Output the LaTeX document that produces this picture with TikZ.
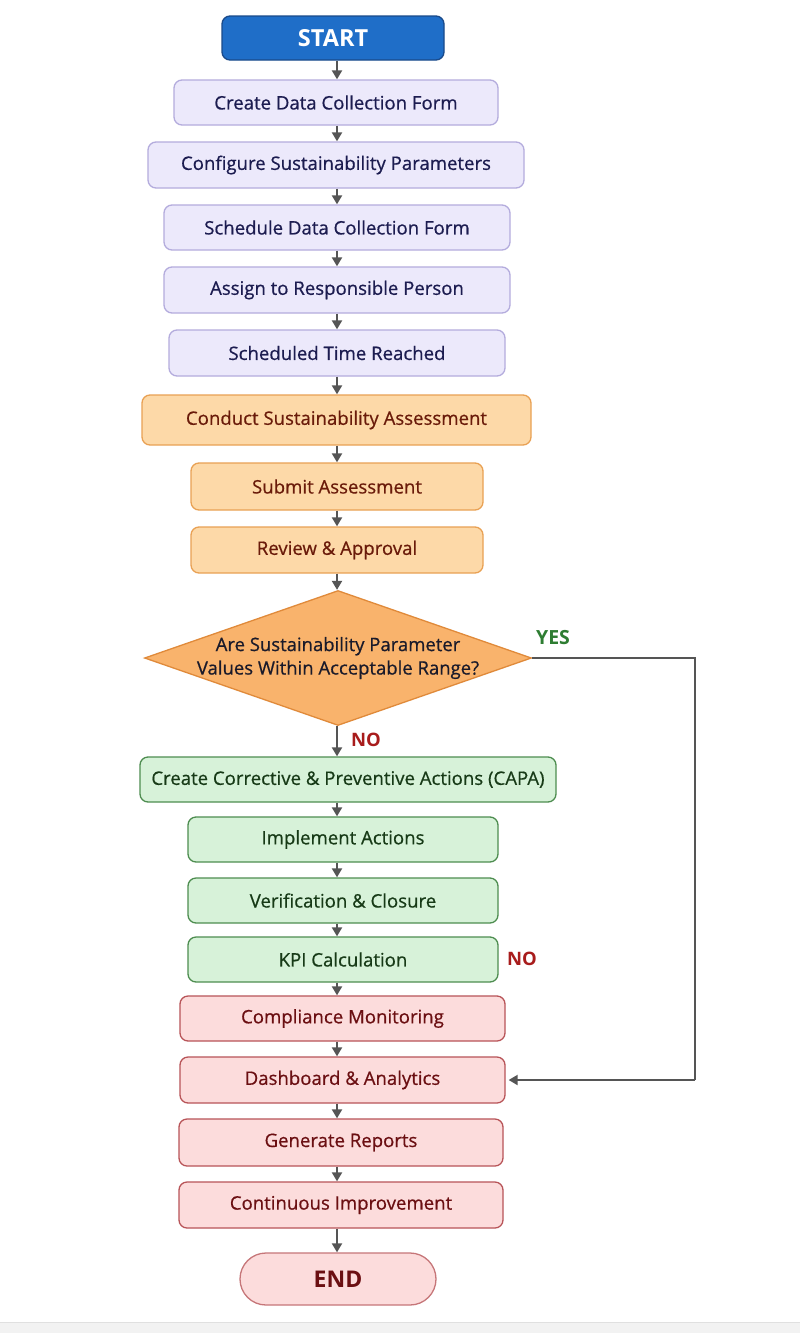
\documentclass[tikz,border=0pt]{standalone}
\usepackage{fontspec}
\setmainfont{Open Sans}
\newfontfamily\medfont{Open Sans}[FakeBold=0.6]
\usetikzlibrary{arrows.meta,shapes.geometric}
\definecolor{pfill}{HTML}{ECE9FB}
\definecolor{pdraw}{HTML}{B4ACDD}
\definecolor{ptext}{HTML}{1C1C50}
\definecolor{ofill}{HTML}{FDD9A8}
\definecolor{odraw}{HTML}{E9A154}
\definecolor{otext}{HTML}{6A1B0A}
\definecolor{dfill}{HTML}{F9B36C}
\definecolor{ddraw}{HTML}{E08A3A}
\definecolor{dtext}{HTML}{1A1A2A}
\definecolor{gfill}{HTML}{D7F2D9}
\definecolor{gdraw}{HTML}{4E8D50}
\definecolor{gtext}{HTML}{173A17}
\definecolor{rfill}{HTML}{FCDCDC}
\definecolor{rdraw}{HTML}{B85458}
\definecolor{rtext}{HTML}{6B0F12}
\definecolor{sfill}{HTML}{1F6EC8}
\definecolor{sdraw}{HTML}{1A4A8A}
\definecolor{arrc}{HTML}{555555}
\definecolor{yescol}{HTML}{2E7D32}
\definecolor{nocol}{HTML}{A81C1C}
\begin{document}
\begin{tikzpicture}[x=1pt,y=-1pt,
  box/.style={draw, rounded corners=8pt, line width=1.3pt, inner sep=0pt, align=center, font=\medfont\fontsize{18.6}{21}\selectfont},
  pbox/.style={box, fill=pfill, draw=pdraw, text=ptext},
  obox/.style={box, fill=ofill, draw=odraw, text=otext},
  gbox/.style={box, fill=gfill, draw=gdraw, text=gtext},
  rbox/.style={box, fill=rfill, draw=rdraw, text=rtext},
  arr/.style={draw=arrc, line width=2pt, -{Triangle[length=9pt,width=10pt]}},
  lbl/.style={font=\fontsize{18.5}{20}\selectfont\bfseries}
]
\useasboundingbox (0,0) rectangle (800,1333);
\fill[white] (0,0) rectangle (800,1333);
\fill[black!5] (0,1322) rectangle (800,1333);
\draw[black!12, line width=0.8pt] (0,1322) -- (800,1322);

\node[box, fill=sfill, draw=sdraw, text=white, minimum width=222pt, minimum height=44pt, font=\fontsize{23.5}{26}\selectfont\bfseries] (start) at (333,38) {START};
\node[pbox, minimum width=324pt, minimum height=45pt] (n1) at (336,102.5) {Create Data Collection Form};
\node[pbox, minimum width=376pt, minimum height=46pt] (n2) at (336,165) {Configure Sustainability Parameters};
\node[pbox, minimum width=346pt, minimum height=45pt] (n3) at (337,227.5) {Schedule Data Collection Form};
\node[pbox, minimum width=346pt, minimum height=46pt] (n4) at (337,290) {Assign to Responsible Person};
\node[pbox, minimum width=336pt, minimum height=46pt] (n5) at (337,353) {Scheduled Time Reached};
\node[obox, minimum width=389pt, minimum height=50pt] (o1) at (336.5,420) {Conduct Sustainability Assessment};
\node[obox, minimum width=292pt, minimum height=47pt] (o2) at (337,486.5) {Submit Assessment};
\node[obox, minimum width=292pt, minimum height=46pt] (o3) at (337,550) {Review \& Approval};
\node[diamond, draw=ddraw, fill=dfill, line width=1.3pt, aspect=2.87, inner sep=0pt, minimum width=387pt, minimum height=135pt] (dec) at (338,658) {};
\node[text=dtext, align=center, font=\medfont\fontsize{18.5}{23.5}\selectfont] (dectext) at (dec.center) {Are Sustainability Parameter\\Values Within Acceptable Range?};
\node[gbox, minimum width=416pt, minimum height=45pt] (g1) at (348,779.5) {Create Corrective \& Preventive Actions (CAPA)};
\node[gbox, minimum width=310pt, minimum height=45pt] (g2) at (343,839.5) {Implement Actions};
\node[gbox, minimum width=310pt, minimum height=45pt] (g3) at (343,900.5) {Verification \& Closure};
\node[gbox, minimum width=310pt, minimum height=45pt] (g4) at (343,959.5) {KPI Calculation};
\node[rbox, minimum width=325pt, minimum height=45pt] (r1) at (342.5,1018.5) {Compliance Monitoring};
\node[rbox, minimum width=325pt, minimum height=46pt] (r2) at (342.5,1080) {Dashboard \& Analytics};
\node[rbox, minimum width=324pt, minimum height=47pt] (r3) at (341,1142.5) {Generate Reports};
\node[rbox, minimum width=324pt, minimum height=46pt] (r4) at (341,1205) {Continuous Improvement};
\node[box, fill=rfill, draw=rdraw!80, text=rtext, rounded corners=26pt, minimum width=196pt, minimum height=52pt, font=\fontsize{23}{25}\selectfont\bfseries] (end) at (338,1279) {END};

\coordinate (ax) at (337,0);
\coordinate (yr) at (695,0);
\foreach \a/\b in {start/n1,n1/n2,n2/n3,n3/n4,n4/n5,n5/o1,o1/o2,o2/o3,o3/dec,dec/g1,g1/g2,g2/g3,g3/g4,g4/r1,r1/r2,r2/r3,r3/r4,r4/end}
  \draw[arr] (\a.south -| ax) -- (\b.north -| ax);

\draw[arr, -] (dec.east) -- (dec.east -| yr) -- (r2.east -| yr);
\draw[arr, shorten >=3pt] (r2.east -| yr) -- (r2.east);

\node[lbl, text=yescol, font=\fontsize{19.5}{20}\selectfont\bfseries] (yes) at (553,638) {YES};
\node[lbl, text=nocol] (no1) at (366,740) {NO};
\node[lbl, text=nocol] (no2) at (522,959) {NO};
\end{tikzpicture}
\end{document}
